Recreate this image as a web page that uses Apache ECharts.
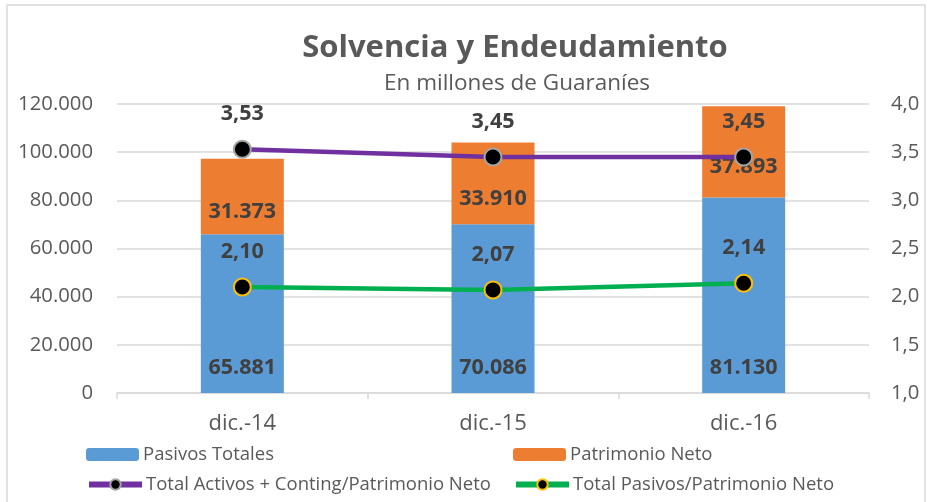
<!DOCTYPE html>
<html>
<head>
<meta charset="utf-8">
<script src="https://cdn.jsdelivr.net/npm/echarts@6/dist/echarts.min.js"></script>
<style>
  html, body { margin: 0; padding: 0; background: #fff; }
  #chart { width: 929px; height: 502px; }
</style>
</head>
<body>
<div id="chart"></div>
<script>
// datos
const categories = ['dic.-14', 'dic.-15', 'dic.-16']
const pasivosTotales = [65881, 70086, 81130]
const patrimonioNeto = [31373, 33910, 37893]
const activosContingPatrimonio = [3.53, 3.45, 3.45]
const pasivosPatrimonio = [2.10, 2.07, 2.14]

const FONT = 'Open Sans'
const TEXT = '#595959'
const LABEL = '#404040'
const GRID = '#d9d9d9'

// 65881 -> 65.881
const miles = v => String(Math.round(v)).replace(/\B(?=(\d{3})+(?!\d))/g, '.')
// 2.1 -> 2,10
const dec = (v, d) => Number(v).toFixed(d).replace('.', ',')

const barLabel = {
  show: true,
  fontFamily: FONT,
  fontSize: 21.5,
  fontWeight: 'bold',
  color: LABEL,
  formatter: p => miles(p.value)
}
const lineLabel = {
  show: true,
  position: 'top',
  distance: 15,
  fontFamily: FONT,
  fontSize: 21.5,
  fontWeight: 'bold',
  color: LABEL,
  formatter: p => dec(p.value, 2)
}

// una leyenda por elemento para fijar la posición
const legendItem = (name, left, top) => ({
  left: left,
  top: top,
  itemWidth: 53,
  itemHeight: 13,
  itemGap: 0,
  padding: 0,
  lineStyle: { width: 6 },
  textStyle: { fontFamily: FONT, fontSize: 18.5, color: TEXT, padding: [0, 0, 0, -1] },
  data: [name]
})

const chart = echarts.init(document.getElementById('chart'))
chart.setOption({
  animation: false,
  textStyle: { fontFamily: FONT },
  graphic: [{
    type: 'rect',
    shape: { x: 7, y: 5, width: 918, height: 520 },
    style: { fill: 'none', stroke: GRID, lineWidth: 1.5 }
  }],
  title: [
    {
      text: 'Solvencia y Endeudamiento',
      left: 510,
      top: 28,
      textAlign: 'center',
      textStyle: { fontFamily: FONT, fontSize: 31, fontWeight: 'bold', color: TEXT }
    },
    {
      text: 'En millones de Guaraníes',
      left: 512,
      top: 67,
      textAlign: 'center',
      textStyle: { fontFamily: FONT, fontSize: 22.5, fontWeight: 'normal', color: TEXT }
    }
  ],
  grid: { left: 117, right: 60, top: 104, bottom: 109 },
  legend: [
    legendItem('Pasivos Totales', 86, 445),
    legendItem('Patrimonio Neto', 513, 445),
    legendItem('Total Activos + Conting/Patrimonio Neto', 86, 475),
    legendItem('Total Pasivos/Patrimonio Neto', 513, 475)
  ],
  xAxis: {
    type: 'category',
    data: categories,
    axisLine: { lineStyle: { color: GRID, width: 1.5 } },
    axisTick: { show: true, length: 6, lineStyle: { color: GRID, width: 1.5 } },
    axisLabel: { fontFamily: FONT, fontSize: 22, color: TEXT, margin: 20 }
  },
  yAxis: [
    {
      type: 'value',
      min: 0,
      max: 120000,
      interval: 20000,
      axisLine: { show: false },
      axisTick: { show: false },
      splitLine: { lineStyle: { color: GRID, width: 1.5 } },
      axisLabel: { fontFamily: FONT, fontSize: 20.3, color: TEXT, margin: 24, formatter: v => miles(v) }
    },
    {
      type: 'value',
      min: 1,
      max: 4,
      interval: 0.5,
      axisLine: { show: false },
      axisTick: { show: false },
      splitLine: { show: false },
      axisLabel: { fontFamily: FONT, fontSize: 20.3, color: TEXT, margin: 22, formatter: v => dec(v, 1) }
    }
  ],
  series: [
    {
      name: 'Pasivos Totales',
      type: 'bar',
      stack: 'total',
      barWidth: 83,
      itemStyle: { color: '#5b9bd5' },
      label: { ...barLabel, position: 'insideBottom', distance: 14 },
      data: pasivosTotales
    },
    {
      name: 'Patrimonio Neto',
      type: 'bar',
      stack: 'total',
      barWidth: 83,
      itemStyle: { color: '#ed7d31' },
      label: { ...barLabel, position: 'inside', offset: [0, 15] },
      data: patrimonioNeto
    },
    {
      name: 'Total Activos + Conting/Patrimonio Neto',
      type: 'line',
      yAxisIndex: 1,
      symbol: 'circle',
      symbolSize: 17,
      lineStyle: { color: '#7030a0', width: 4.5 },
      itemStyle: { color: '#000', borderColor: '#a5a5a5', borderWidth: 2 },
      label: lineLabel,
      z: 5,
      data: activosContingPatrimonio
    },
    {
      name: 'Total Pasivos/Patrimonio Neto',
      type: 'line',
      yAxisIndex: 1,
      symbol: 'circle',
      symbolSize: 17,
      lineStyle: { color: '#00b050', width: 4.5 },
      itemStyle: { color: '#000', borderColor: '#ffc000', borderWidth: 2 },
      label: lineLabel,
      z: 5,
      data: pasivosPatrimonio
    }
  ]
})
</script>
</body>
</html>
